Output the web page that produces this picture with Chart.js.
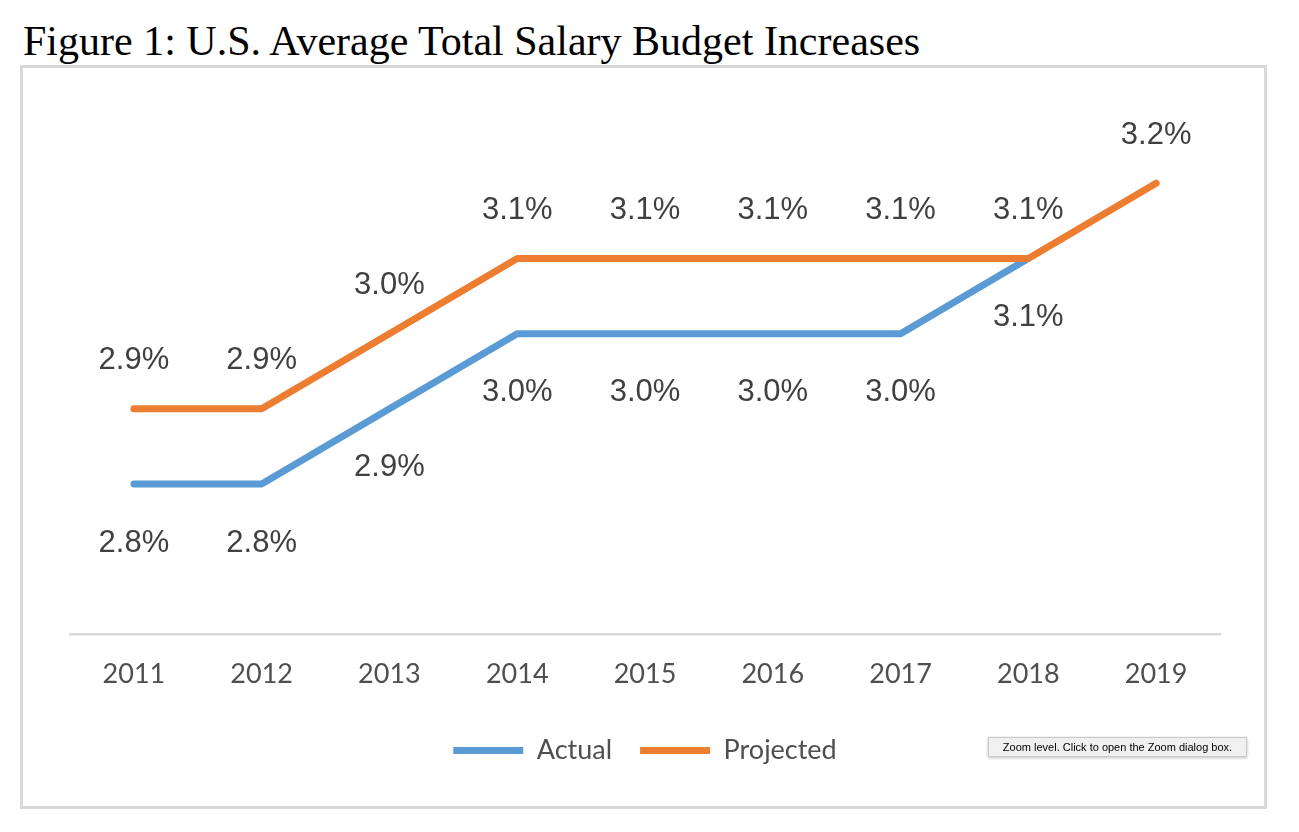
<!DOCTYPE html>
<html>
<head>
<meta charset="utf-8">
<script src="https://cdn.jsdelivr.net/npm/chart.js@4"></script>
<style>
  html, body { margin: 0; padding: 0; background: #ffffff; }
  body { width: 1299px; height: 832px; position: relative; overflow: hidden; }
  #title { position: absolute; left: 23px; top: 21px; font-family: "Liberation Serif", "Times New Roman", serif; font-size: 42px; line-height: 41px; color: #000; white-space: nowrap; }
  #frame { position: absolute; left: 20px; top: 65px; width: 1241px; height: 738px; border: 3px solid #D9D9D9; }
  #wrap { position: absolute; left: 23px; top: 68px; width: 1241px; height: 738px; }
  #tip { position: absolute; left: 988px; top: 737px; width: 257px; height: 18px; background: #F0F0F0; border: 1px solid #C9C9C9; box-shadow: 0 1px 3px rgba(0,0,0,0.25); font-family: "Liberation Sans", Arial, sans-serif; font-size: 11px; line-height: 18px; color: #000; text-align: center; }
</style>
</head>
<body>
<div id="title">Figure 1: U.S. Average Total Salary Budget Increases</div>
<div id="frame"></div>
<div id="wrap"><canvas id="c" width="1241" height="738"></canvas></div>
<div id="tip">Zoom level. Click to open the Zoom dialog box.</div>
<script>
const years = ["2011", "2012", "2013", "2014", "2015", "2016", "2017", "2018", "2019"];
const actual = [2.8, 2.8, 2.9, 3.0, 3.0, 3.0, 3.0, 3.1];
const projected = [2.9, 2.9, 3.0, 3.1, 3.1, 3.1, 3.1, 3.1, 3.2];

const labelPlugin = {
  id: 'pointLabels',
  afterDatasetsDraw(chart, args, opts) {
    const ctx = chart.ctx;
    ctx.save();
    ctx.font = opts.font;
    ctx.fillStyle = opts.color;
    ctx.textAlign = 'center';
    ctx.textBaseline = 'middle';
    chart.data.datasets.forEach((ds, di) => {
      const meta = chart.getDatasetMeta(di);
      const off = opts.offsets[di];
      meta.data.forEach((pt, i) => {
        const v = ds.data[i];
        if (v === null || v === undefined) return;
        ctx.fillText(v.toFixed(1) + '%', pt.x, pt.y + off);
      });
    });
    ctx.restore();
  }
};

new Chart(document.getElementById('c'), {
  type: 'line',
  data: {
    labels: years,
    datasets: [
      { label: 'Actual', data: actual, borderColor: '#5B9BD5', backgroundColor: '#5B9BD5', borderWidth: 7, pointRadius: 0, tension: 0, borderCapStyle: 'round', borderJoinStyle: 'round', order: 1 },
      { label: 'Projected', data: projected, borderColor: '#ED7D31', backgroundColor: '#ED7D31', borderWidth: 7, pointRadius: 0, tension: 0, borderCapStyle: 'round', borderJoinStyle: 'round', order: 0 }
    ]
  },
  options: {
    responsive: false,
    animation: false,
    layout: { padding: { left: 47, right: 44, top: 40, bottom: 32 } },
    scales: {
      x: {
        offset: true,
        grid: { display: false },
        border: { display: true, color: '#D9D9D9', width: 2.5 },
        ticks: { color: '#4F4F4F', font: { family: 'Lato', size: 27 }, padding: 16, maxRotation: 0 },
        afterFit(scale) { scale.height = 74.5; }
      },
      y: { display: false, min: 2.6, max: 3.3 }
    },
    plugins: {
      tooltip: { enabled: false },
      legend: {
        position: 'bottom',
        labels: {
          usePointStyle: true,
          pointStyle: 'line',
          pointStyleWidth: 70,
          boxHeight: 27,
          padding: 28,
          color: '#4F4F4F',
          font: { family: 'Lato', size: 27 },
          sort: (a, b) => a.datasetIndex - b.datasetIndex
        }
      },
      pointLabels: { font: '31px "Liberation Sans", Arial, sans-serif', color: '#404040', offsets: [59, -48] }
    }
  },
  plugins: [labelPlugin]
});
</script>
</body>
</html>
